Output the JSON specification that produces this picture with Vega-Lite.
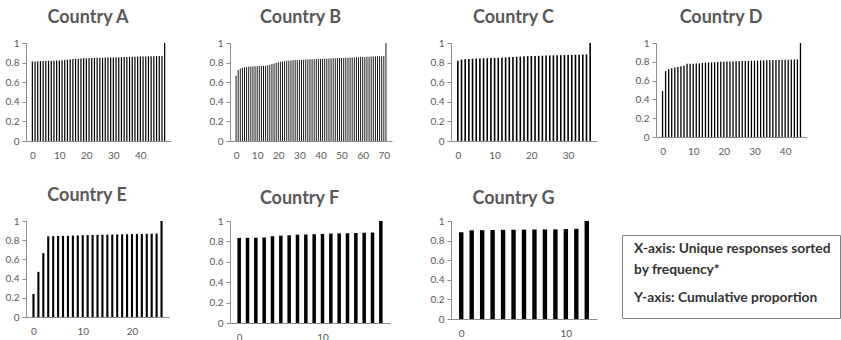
{
  "$schema": "https://vega.github.io/schema/vega-lite/v6.json",
  "padding": {"top": 9, "left": 5, "right": 0, "bottom": 0},
  "background": "white",
  "config": {
    "view": {"stroke": null},
    "title": {"font": "Lato", "fontSize": 18, "fontWeight": "bold", "color": "#595959", "offset": 11, "anchor": "middle", "frame": "bounds"},
    "axis": {"labelFont": "Lato", "labelFontSize": 10, "labelColor": "#595959", "domainColor": "#8c8c8c", "tickColor": "#8c8c8c", "grid": false, "title": null},
    "axisX": {"ticks": false, "tickSize": 0, "labelPadding": 9},
    "axisY": {"tickSize": 4, "labelPadding": 3}
  },
  "datasets": {
    "A": [
      {"i":0,"v":0.81},{"i":1,"v":0.812},{"i":2,"v":0.814},{"i":3,"v":0.815},{"i":4,"v":0.816},{"i":5,"v":0.817},{"i":6,"v":0.818},{"i":7,"v":0.819},{"i":8,"v":0.82},{"i":9,"v":0.821},
      {"i":10,"v":0.822},{"i":11,"v":0.824},{"i":12,"v":0.827},{"i":13,"v":0.83},{"i":14,"v":0.833},{"i":15,"v":0.836},{"i":16,"v":0.838},{"i":17,"v":0.84},{"i":18,"v":0.842},{"i":19,"v":0.844},
      {"i":20,"v":0.845},{"i":21,"v":0.846},{"i":22,"v":0.847},{"i":23,"v":0.848},{"i":24,"v":0.849},{"i":25,"v":0.85},{"i":26,"v":0.85},{"i":27,"v":0.851},{"i":28,"v":0.852},{"i":29,"v":0.852},
      {"i":30,"v":0.853},{"i":31,"v":0.854},{"i":32,"v":0.855},{"i":33,"v":0.856},{"i":34,"v":0.857},{"i":35,"v":0.858},{"i":36,"v":0.859},{"i":37,"v":0.86},{"i":38,"v":0.86},{"i":39,"v":0.861},
      {"i":40,"v":0.862},{"i":41,"v":0.862},{"i":42,"v":0.863},{"i":43,"v":0.864},{"i":44,"v":0.865},{"i":45,"v":0.865},{"i":46,"v":0.866},{"i":47,"v":0.867},{"i":48,"v":0.868},{"i":49,"v":1.0}
    ],
    "B": [
      {"i":0,"v":0.665},{"i":1,"v":0.725},{"i":2,"v":0.74},{"i":3,"v":0.748},{"i":4,"v":0.752},{"i":5,"v":0.755},{"i":6,"v":0.758},{"i":7,"v":0.76},{"i":8,"v":0.762},{"i":9,"v":0.763},
      {"i":10,"v":0.764},{"i":11,"v":0.765},{"i":12,"v":0.766},{"i":13,"v":0.767},{"i":14,"v":0.768},{"i":15,"v":0.772},{"i":16,"v":0.778},{"i":17,"v":0.785},{"i":18,"v":0.792},{"i":19,"v":0.798},
      {"i":20,"v":0.803},{"i":21,"v":0.808},{"i":22,"v":0.812},{"i":23,"v":0.815},{"i":24,"v":0.818},{"i":25,"v":0.82},{"i":26,"v":0.822},{"i":27,"v":0.824},{"i":28,"v":0.826},{"i":29,"v":0.827},
      {"i":30,"v":0.828},{"i":31,"v":0.829},{"i":32,"v":0.83},{"i":33,"v":0.831},{"i":34,"v":0.832},{"i":35,"v":0.833},{"i":36,"v":0.834},{"i":37,"v":0.835},{"i":38,"v":0.836},{"i":39,"v":0.837},
      {"i":40,"v":0.838},{"i":41,"v":0.839},{"i":42,"v":0.84},{"i":43,"v":0.841},{"i":44,"v":0.842},{"i":45,"v":0.843},{"i":46,"v":0.844},{"i":47,"v":0.845},{"i":48,"v":0.846},{"i":49,"v":0.846},
      {"i":50,"v":0.847},{"i":51,"v":0.848},{"i":52,"v":0.849},{"i":53,"v":0.85},{"i":54,"v":0.851},{"i":55,"v":0.852},{"i":56,"v":0.853},{"i":57,"v":0.854},{"i":58,"v":0.855},{"i":59,"v":0.856},
      {"i":60,"v":0.857},{"i":61,"v":0.858},{"i":62,"v":0.859},{"i":63,"v":0.86},{"i":64,"v":0.861},{"i":65,"v":0.862},{"i":66,"v":0.863},{"i":67,"v":0.864},{"i":68,"v":0.865},{"i":69,"v":0.866},
      {"i":70,"v":0.867},{"i":71,"v":1.0}
    ],
    "C": [
      {"i":0,"v":0.82},{"i":1,"v":0.83},{"i":2,"v":0.835},{"i":3,"v":0.838},{"i":4,"v":0.84},{"i":5,"v":0.842},{"i":6,"v":0.843},{"i":7,"v":0.844},{"i":8,"v":0.845},{"i":9,"v":0.846},
      {"i":10,"v":0.847},{"i":11,"v":0.848},{"i":12,"v":0.85},{"i":13,"v":0.853},{"i":14,"v":0.856},{"i":15,"v":0.858},{"i":16,"v":0.86},{"i":17,"v":0.862},{"i":18,"v":0.864},{"i":19,"v":0.866},
      {"i":20,"v":0.867},{"i":21,"v":0.868},{"i":22,"v":0.869},{"i":23,"v":0.87},{"i":24,"v":0.872},{"i":25,"v":0.873},{"i":26,"v":0.874},{"i":27,"v":0.875},{"i":28,"v":0.876},{"i":29,"v":0.877},
      {"i":30,"v":0.878},{"i":31,"v":0.879},{"i":32,"v":0.88},{"i":33,"v":0.881},{"i":34,"v":0.882},{"i":35,"v":0.883},{"i":36,"v":1.0}
    ],
    "D": [
      {"i":0,"v":0.49},{"i":1,"v":0.7},{"i":2,"v":0.72},{"i":3,"v":0.732},{"i":4,"v":0.74},{"i":5,"v":0.746},{"i":6,"v":0.752},{"i":7,"v":0.758},{"i":8,"v":0.778},{"i":9,"v":0.779},
      {"i":10,"v":0.78},{"i":11,"v":0.781},{"i":12,"v":0.782},{"i":13,"v":0.788},{"i":14,"v":0.79},{"i":15,"v":0.792},{"i":16,"v":0.794},{"i":17,"v":0.796},{"i":18,"v":0.798},{"i":19,"v":0.8},
      {"i":20,"v":0.801},{"i":21,"v":0.802},{"i":22,"v":0.803},{"i":23,"v":0.804},{"i":24,"v":0.805},{"i":25,"v":0.806},{"i":26,"v":0.808},{"i":27,"v":0.809},{"i":28,"v":0.81},{"i":29,"v":0.811},
      {"i":30,"v":0.812},{"i":31,"v":0.813},{"i":32,"v":0.814},{"i":33,"v":0.815},{"i":34,"v":0.816},{"i":35,"v":0.817},{"i":36,"v":0.818},{"i":37,"v":0.819},{"i":38,"v":0.82},{"i":39,"v":0.821},
      {"i":40,"v":0.822},{"i":41,"v":0.823},{"i":42,"v":0.824},{"i":43,"v":0.825},{"i":44,"v":0.826},{"i":45,"v":1.0}
    ],
    "E": [
      {"i":0,"v":0.24},{"i":1,"v":0.47},{"i":2,"v":0.665},{"i":3,"v":0.84},{"i":4,"v":0.842},{"i":5,"v":0.844},{"i":6,"v":0.845},{"i":7,"v":0.846},{"i":8,"v":0.848},{"i":9,"v":0.85},
      {"i":10,"v":0.852},{"i":11,"v":0.853},{"i":12,"v":0.855},{"i":13,"v":0.856},{"i":14,"v":0.857},{"i":15,"v":0.858},{"i":16,"v":0.859},{"i":17,"v":0.86},{"i":18,"v":0.861},{"i":19,"v":0.862},
      {"i":20,"v":0.864},{"i":21,"v":0.865},{"i":22,"v":0.866},{"i":23,"v":0.867},{"i":24,"v":0.868},{"i":25,"v":0.869},{"i":26,"v":1.0}
    ],
    "F": [
      {"i":0,"v":0.834},{"i":1,"v":0.835},{"i":2,"v":0.836},{"i":3,"v":0.838},{"i":4,"v":0.851},{"i":5,"v":0.856},{"i":6,"v":0.86},{"i":7,"v":0.866},{"i":8,"v":0.868},{"i":9,"v":0.87},
      {"i":10,"v":0.873},{"i":11,"v":0.877},{"i":12,"v":0.879},{"i":13,"v":0.88},{"i":14,"v":0.882},{"i":15,"v":0.885},{"i":16,"v":0.887},{"i":17,"v":1.0}
    ],
    "G": [
      {"i":0,"v":0.885},{"i":1,"v":0.905},{"i":2,"v":0.907},{"i":3,"v":0.908},{"i":4,"v":0.91},{"i":5,"v":0.911},{"i":6,"v":0.912},{"i":7,"v":0.913},{"i":8,"v":0.914},{"i":9,"v":0.915},
      {"i":10,"v":0.917},{"i":11,"v":0.92},{"i":12,"v":1.0}
    ],
    "legend": [
      {"para": 1, "text": "X-axis: Unique responses sorted\nby frequency*"},
      {"para": 2, "text": "Y-axis: Cumulative proportion"}
    ]
  },
  "spacing": 27,
  "vconcat": [
    {
      "spacing": 38,
      "hconcat": [
        {
          "width": 145, "height": 98,
          "title": {"text": "Country A"},
          "data": {"name": "A"},
          "mark": {"type": "bar", "size": 1.2, "color": "#000000"},
          "encoding": {
            "x": {"field": "i", "type": "quantitative", "scale": {"domain": [-0.5, 49.5], "nice": false, "zero": false}, "axis": {"values": [0, 10, 20, 30, 40], "title": null}},
            "y": {"field": "v", "type": "quantitative", "scale": {"domain": [0, 1], "nice": false}, "axis": {"values": [0, 0.2, 0.4, 0.6, 0.8, 1], "format": "~g", "title": null}}
          }
        },
        {
          "width": 162, "height": 98,
          "title": {"text": "Country B"},
          "data": {"name": "B"},
          "mark": {"type": "bar", "size": 0.9, "color": "#000000"},
          "encoding": {
            "x": {"field": "i", "type": "quantitative", "scale": {"domain": [-0.5, 71.5], "nice": false, "zero": false}, "axis": {"values": [0, 10, 20, 30, 40, 50, 60, 70], "title": null}},
            "y": {"field": "v", "type": "quantitative", "scale": {"domain": [0, 1], "nice": false}, "axis": {"values": [0, 0.2, 0.4, 0.6, 0.8, 1], "format": "~g", "title": null}}
          }
        },
        {
          "width": 146, "height": 98,
          "title": {"text": "Country C"},
          "data": {"name": "C"},
          "mark": {"type": "bar", "size": 1.6, "color": "#000000"},
          "encoding": {
            "x": {"field": "i", "type": "quantitative", "scale": {"domain": [-0.5, 36.5], "nice": false, "zero": false}, "axis": {"values": [0, 10, 20, 30], "title": null}},
            "y": {"field": "v", "type": "quantitative", "scale": {"domain": [0, 1], "nice": false}, "axis": {"values": [0, 0.2, 0.4, 0.6, 0.8, 1], "format": "~g", "title": null}}
          }
        },
        {
          "width": 151, "height": 94,
          "title": {"text": "Country D"},
          "data": {"name": "D"},
          "mark": {"type": "bar", "size": 1.3, "color": "#000000"},
          "encoding": {
            "x": {"field": "i", "type": "quantitative", "scale": {"domain": [-0.5, 45.5], "nice": false, "zero": false}, "axis": {"values": [0, 10, 20, 30, 40], "title": null}},
            "y": {"field": "v", "type": "quantitative", "scale": {"domain": [0, 1], "nice": false}, "axis": {"values": [0, 0.2, 0.4, 0.6, 0.8, 1], "format": "~g", "title": null}}
          }
        }
      ]
    },
    {
      "spacing": 24,
      "hconcat": [
        {
          "spacing": 40,
          "hconcat": [
            {
              "width": 143, "height": 96,
              "title": {"text": "Country E", "offset": 11},
              "data": {"name": "E"},
              "mark": {"type": "bar", "size": 2.1, "color": "#000000"},
              "encoding": {
                "x": {"field": "i", "type": "quantitative", "scale": {"domain": [-0.5, 26.5], "nice": false, "zero": false}, "axis": {"values": [0, 10, 20], "title": null}},
                "y": {"field": "v", "type": "quantitative", "scale": {"domain": [0, 1], "nice": false}, "axis": {"values": [0, 0.2, 0.4, 0.6, 0.8, 1], "format": "~g", "title": null}}
              }
            },
            {
              "width": 160, "height": 102,
              "title": {"text": "Country F", "offset": 8},
              "data": {"name": "F"},
              "mark": {"type": "bar", "size": 3.5, "color": "#000000"},
              "encoding": {
                "x": {"field": "i", "type": "quantitative", "scale": {"domain": [-0.5, 17.5], "nice": false, "zero": false}, "axis": {"values": [0, 10], "title": null}},
                "y": {"field": "v", "type": "quantitative", "scale": {"domain": [0, 1], "nice": false}, "axis": {"values": [0, 0.2, 0.4, 0.6, 0.8, 1], "format": "~g", "title": null}}
              }
            },
            {
              "width": 146, "height": 98,
              "title": {"text": "Country G", "offset": 8},
              "data": {"name": "G"},
              "mark": {"type": "bar", "size": 4.4, "color": "#000000"},
              "encoding": {
                "x": {"field": "i", "type": "quantitative", "scale": {"domain": [-0.5, 12.5], "nice": false, "zero": false}, "axis": {"values": [0, 10], "title": null}},
                "y": {"field": "v", "type": "quantitative", "scale": {"domain": [0, 1], "nice": false}, "axis": {"values": [0, 0.2, 0.4, 0.6, 0.8, 1], "format": "~g", "title": null}}
              }
            }
          ]
        },
        {
          "spacing": 0,
          "vconcat": [
            {
              "width": 218, "height": 13,
              "data": {"values": []},
              "mark": {"type": "text"},
              "encoding": {}
            },
            {
              "width": 218, "height": 83,
              "view": {"stroke": "#7f7f7f", "strokeWidth": 1},
              "data": {"name": "legend"},
              "mark": {"type": "text", "align": "left", "baseline": "middle", "font": "Lato", "fontWeight": "bold", "fontSize": 13.8, "color": "#333333", "lineBreak": "\n", "lineHeight": 21, "dx": 12, "dy": -3},
              "encoding": {
                "x": {"datum": 0, "type": "quantitative", "scale": {"domain": [0, 1]}, "axis": null},
                "y": {"field": "para", "type": "ordinal", "scale": {"type": "point", "padding": 0.357}, "axis": null},
                "text": {"field": "text"}
              }
            }
          ]
        }
      ]
    }
  ]
}
